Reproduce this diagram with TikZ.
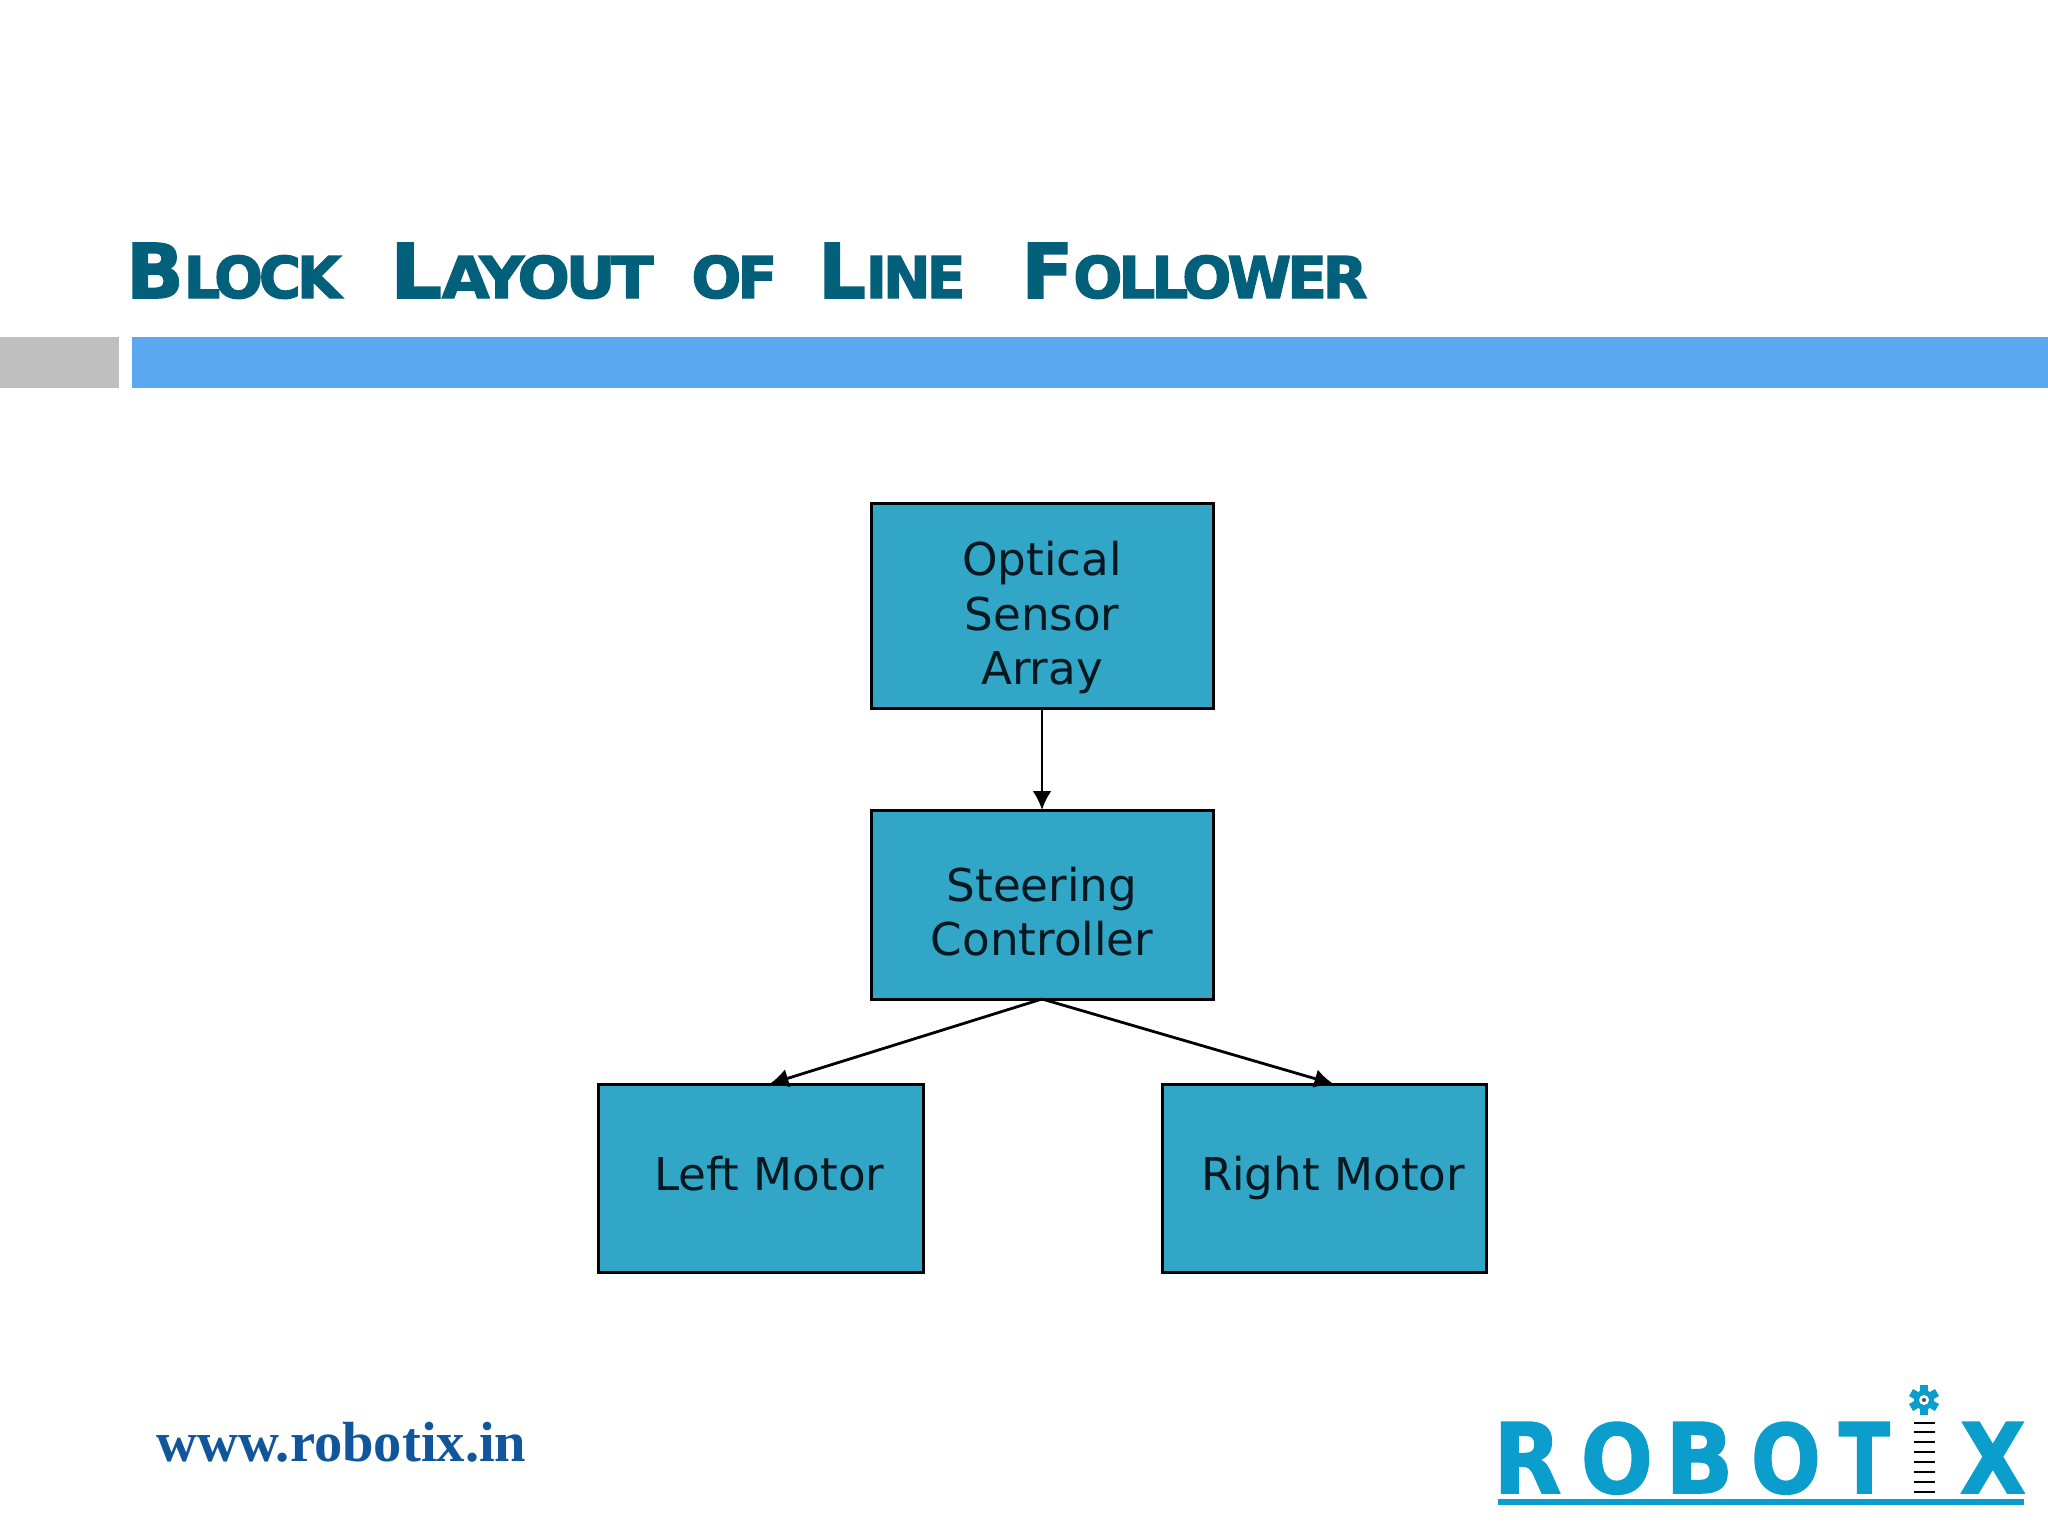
\documentclass[tikz,border=0pt]{standalone}
\usepackage{fontspec}
\usepackage{graphicx}
\usetikzlibrary{arrows.meta}
\setmainfont{DejaVu Sans}
\newfontfamily\ttlfont{DejaVu Sans Bold}[FakeBold=2.2,LetterSpace=-7]
\newfontfamily\logofont{DejaVu Sans Bold}[FakeBold=1.5]
\newfontfamily\webfont{Liberation Serif}
\newcommand{\ttlword}[3]{\resizebox{#1}{\height}{{\fontsize{37.7}{40}\selectfont #2}{\fontsize{28.8}{30}\selectfont #3}}}
\newcommand{\logoletter}[2]{\resizebox{#1}{35.5pt}{#2}}
\definecolor{titlecol}{HTML}{02607A}
\definecolor{barblue}{HTML}{5AA9F0}
\definecolor{bargray}{HTML}{BFBFBF}
\definecolor{boxfill}{HTML}{31A6C6}
\definecolor{boxtext}{HTML}{041820}
\definecolor{webcol}{HTML}{11569B}
\definecolor{logocol}{HTML}{0B9DCC}
\tikzset{
  blockbox/.style={draw=black,fill=boxfill,line width=1.5pt,outer sep=0pt,inner sep=0pt,align=center,text=boxtext,font=\fontsize{22.6}{27.3}\selectfont},
  flow/.style={-{Latex[length=9.5pt,width=9.5pt]},line width=1.4pt},
  rung/.style={draw=black,line width=1.3pt},
}
\begin{document}
\begin{tikzpicture}[x=0.5pt,y=-0.5pt]
\useasboundingbox (0,0) rectangle (2048,1536);
\fill[white] (0,0) rectangle (2048,1536);
\node[anchor=base west,inner sep=0pt,text=titlecol,font=\ttlfont] (title) at (126,298)
  {\ttlword{107.5pt}{B}{LOCK}\hspace{24.5pt}\ttlword{131.5pt}{L}{AYOUT}\hspace{19pt}\ttlword{43pt}{}{OF}\hspace{20.5pt}\ttlword{73.5pt}{L}{INE}\hspace{28pt}\ttlword{173pt}{F}{OLLOWER}};
\fill[bargray] (0,337) rectangle (119,388);
\fill[barblue] (132,337) rectangle (2048,388);
\node[blockbox,minimum width=171pt,minimum height=102.5pt] (optical) at (1042,605.5) {\begin{tabular}{@{}c@{}}\rule{0pt}{33pt}Optical\\Sensor\\Array\end{tabular}};
\node[blockbox,minimum width=171pt,minimum height=94.5pt] (steer) at (1042,904.5) {\begin{tabular}{@{}c@{}}\rule{0pt}{32pt}Steering\\[-0.5pt]Controller\end{tabular}};
\node[blockbox,minimum width=162.5pt,minimum height=94pt] (left) at (760.5,1178) {\vphantom{g}\hspace*{9pt}Left Motor};
\node[blockbox,minimum width=162pt,minimum height=94pt] (right) at (1324,1178) {\hspace*{9pt}Right Motor};
\draw[flow] (optical.south) -- (steer.north);
\draw[flow] (steer.south) -- ([xshift=4.5pt]left.north);
\draw[flow] (steer.south) -- ([xshift=4.75pt]right.north);
\node[anchor=base west,inner sep=0pt,text=webcol,font=\webfont\bfseries\fontsize{28.3}{30}\selectfont] (web) at (156,1461.5) {www.robotix.in};
\node[anchor=base west,inner sep=0pt,text=logocol,font=\logofont] (logo) at (1493,1493)
  {\logoletter{34pt}{R}\hspace{9.7pt}\logoletter{36pt}{O}\hspace{6.3pt}\logoletter{34pt}{B}\hspace{8.7pt}\logoletter{35pt}{O}\hspace{9pt}\logoletter{25.5pt}{T}\hspace{35pt}\logoletter{33pt}{X}};
\fill[logocol] (1498,1499) rectangle (2024,1505);
\foreach \yy in {1423,1432,1442,1452,1462,1472,1482,1492}
  \draw[rung] (1914,\yy) -- (1935,\yy);
\foreach \ang in {0,60,...,300}
  \fill[logocol,shift={(1924,1400)},rotate=\ang] (-4,-15) rectangle (4,-6);
\fill[logocol] (1924,1400) circle[radius=10];
\fill[white] (1924,1400) circle[radius=5];
\fill[black!70] (1924,1400) circle[radius=2];
\end{tikzpicture}
\end{document}
